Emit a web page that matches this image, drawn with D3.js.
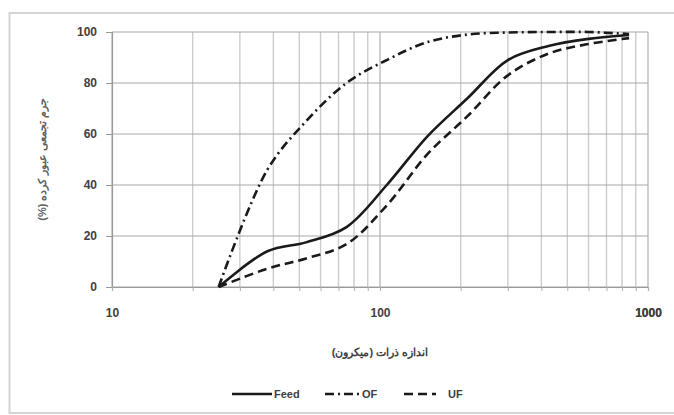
<!DOCTYPE html>
<html>
<head>
<meta charset="utf-8">
<script src="https://cdn.jsdelivr.net/npm/d3@7"></script>
<style>
  html, body { margin: 0; padding: 0; background: #ffffff; }
  svg { display: block; }
  text { font-family: "Liberation Sans", Arial, sans-serif; }
</style>
</head>
<body>
<div id="chart"></div>
<script>
// ---- data ----
const sizes = [25, 38, 53, 75, 106, 150, 212, 300, 425, 600, 850];   // particle size (micron)
const feed  = [0, 14, 17.5, 23.5, 40, 59, 74, 89, 94.5, 97.3, 98.8];
const of    = [0, 46, 65, 80, 89, 96, 99, 99.8, 100, 100, 99.2];
const uf    = [0, 7.2, 11.2, 16.8, 32, 52, 67, 83, 91.5, 95.3, 97.6];
const seriesNames = ["Feed", "OF", "UF"];
const yTicks = [0, 20, 40, 60, 80, 100];
const xTicks = [10, 100, 1000];
const xTitle = "اندازه ذرات (میکرون)";
const yTitle = "جرم تجمعی عبور کرده (%)";

const W = 674, H = 415;
const m = { left: 112, right: 26, top: 32, bottom: 128 };
const pw = W - m.left - m.right, ph = H - m.top - m.bottom;

const svg = d3.select("#chart").append("svg").attr("width", W).attr("height", H);

// outer frame
svg.append("rect").attr("x", 9.5).attr("y", 13).attr("width", 680).attr("height", 400)
  .attr("fill", "none").attr("stroke", "#d4d4d4").attr("stroke-width", 2);

const x = d3.scaleLog().domain([10, 1000]).range([m.left, m.left + pw]);
const y = d3.scaleLinear().domain([0, 100]).range([m.top + ph, m.top]);

const g = svg.append("g");

// vertical grid (major + minor)
const vLines = [];
for (let d = 10; d < 1000; d *= 10) for (let k = 1; k <= 10; k++) vLines.push(d * k);
const uniqV = Array.from(new Set(vLines));
g.append("g").selectAll("line").data(uniqV).join("line")
  .attr("x1", d => x(d)).attr("x2", d => x(d))
  .attr("y1", y(100)).attr("y2", y(0))
  .attr("stroke", d => (Math.log10(d) % 1 === 0) ? "#bcbcbc" : "#cdcdcd")
  .attr("stroke-width", 1.4);

// horizontal grid
g.append("g").selectAll("line").data(yTicks).join("line")
  .attr("x1", m.left).attr("x2", m.left + pw)
  .attr("y1", d => y(d)).attr("y2", d => y(d))
  .attr("stroke", "#a8a8a8").attr("stroke-width", 1.2);

// axes
const yAxis = d3.axisLeft(y).tickValues(yTicks).tickSize(6).tickPadding(9).tickFormat(d3.format("d"));
const yg = svg.append("g").attr("transform", `translate(${m.left},0)`).call(yAxis);
yg.select(".domain").attr("stroke", "#9a9a9a").attr("stroke-width", 1.2);
yg.selectAll(".tick line").attr("stroke", "#9a9a9a");
yg.selectAll(".tick text").attr("font-size", 12).attr("font-weight", "bold").attr("fill", "#404040");

const xAxis = d3.axisBottom(x).tickValues(uniqV.concat([1000])).tickSize(4).tickPadding(17)
  .tickFormat(d => xTicks.includes(d) ? d3.format("d")(d) : "");
const xg = svg.append("g").attr("transform", `translate(0,${y(0)})`).call(xAxis);
xg.select(".domain").attr("stroke", "#9a9a9a").attr("stroke-width", 1.2);
xg.selectAll(".tick line").attr("stroke", "#b0b0b0");
xg.selectAll(".tick text").attr("font-size", 12).attr("font-weight", "bold").attr("fill", "#404040");

// titles
svg.append("text").attr("x", x(100)).attr("y", 356).attr("text-anchor", "middle")
  .attr("font-size", 11).attr("font-weight", "bold").attr("fill", "#404040")
  .attr("direction", "rtl").attr("font-family", "DejaVu Sans").text(xTitle);
svg.append("text").attr("transform", `translate(46,${(y(0) + y(100)) / 2}) rotate(-90)`)
  .attr("text-anchor", "middle").attr("font-size", 11).attr("font-weight", "bold").attr("fill", "#606060")
  .attr("direction", "rtl").attr("font-family", "DejaVu Sans").text(yTitle);

// series
const dashes = { Feed: null, OF: "9,4,2,4", UF: "9,5" };
const vals = { Feed: feed, OF: of, UF: uf };
const line = d3.line().x(d => x(d[0])).y(d => y(d[1])).curve(d3.curveCatmullRom.alpha(0.5));
seriesNames.forEach(s => {
  svg.append("path").datum(sizes.map((sz, i) => [sz, vals[s][i]]))
    .attr("d", line).attr("fill", "none").attr("stroke", "#1a1a1a")
    .attr("stroke-width", 2.6).attr("stroke-dasharray", dashes[s]);
});

// legend
const leg = svg.append("g");
const legItems = [
  { name: "Feed", x1: 232, x2: 272 },
  { name: "OF", x1: 325, x2: 360 },
  { name: "UF", x1: 404, x2: 436 }
];
legItems.forEach((it, i) => {
  leg.append("line").attr("x1", it.x1).attr("x2", it.x2).attr("y1", 394).attr("y2", 394)
    .attr("stroke", "#1a1a1a").attr("stroke-width", 2.6).attr("stroke-dasharray", dashes[it.name]);
  leg.append("text").attr("x", it.name === "UF" ? 448 : it.x2 + 2).attr("y", 398)
    .attr("font-size", 11).attr("font-weight", "bold").attr("fill", "#404040").text(it.name);
});
</script>
</body>
</html>
